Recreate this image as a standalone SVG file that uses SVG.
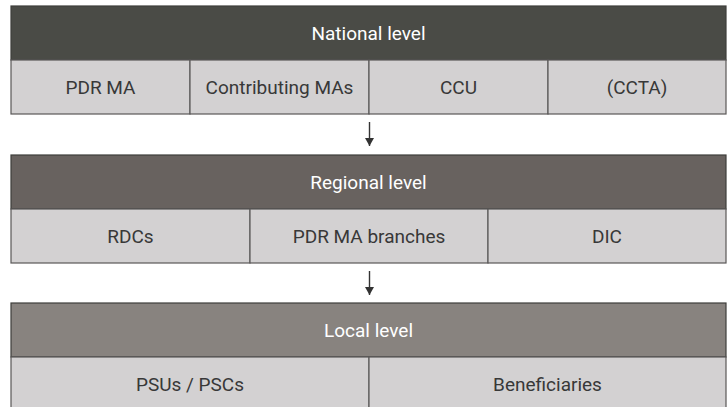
<svg xmlns="http://www.w3.org/2000/svg" width="728" height="407" viewBox="0 0 728 407">
<style>
.hd{stroke:#3e3e3b;stroke-width:1.2}
.cell{fill:#d3d1d2;stroke:#5a5858;stroke-width:1.2}
.ht{font-family:Roboto,"Liberation Sans",sans-serif;font-size:19px;fill:#ffffff;text-anchor:middle}
.ct{font-family:Roboto,"Liberation Sans",sans-serif;font-size:19px;fill:#383838;text-anchor:middle}
.con{stroke:#333333;stroke-width:1.4;fill:none}
</style>
<defs>
<marker id="ah" markerWidth="10" markerHeight="9" refX="8" refY="4.5" orient="auto" markerUnits="userSpaceOnUse" viewBox="0 0 10 9">
<path d="M0,0 L8,4.5 L0,9 Z" fill="#333333"/>
</marker>
</defs>
<rect width="728" height="407" fill="#ffffff"/>
<g id="national">
<rect class="hd" x="11" y="6" width="715" height="54" fill="#4a4b46"/>
<text class="ht" x="368.5" y="40">National level</text>
<rect class="cell" x="11" y="60" width="179" height="54"/>
<rect class="cell" x="190" y="60" width="179" height="54"/>
<rect class="cell" x="369" y="60" width="179" height="54"/>
<rect class="cell" x="548" y="60" width="178" height="54"/>
<text class="ct" x="100.5" y="94">PDR MA</text>
<text class="ct" x="279.5" y="94">Contributing MAs</text>
<text class="ct" x="458.5" y="94">CCU</text>
<text class="ct" x="637" y="94">(CCTA)</text>
</g>
<g id="regional">
<rect class="hd" x="11" y="155" width="715" height="54" fill="#68625f"/>
<text class="ht" x="368.5" y="189">Regional level</text>
<rect class="cell" x="11" y="209" width="239" height="54"/>
<rect class="cell" x="250" y="209" width="238" height="54"/>
<rect class="cell" x="488" y="209" width="238" height="54"/>
<text class="ct" x="130.5" y="243">RDCs</text>
<text class="ct" x="369" y="243">PDR MA branches</text>
<text class="ct" x="607" y="243">DIC</text>
</g>
<g id="local">
<rect class="hd" x="11" y="303" width="715" height="54" fill="#88837f"/>
<text class="ht" x="368.5" y="337">Local level</text>
<rect class="cell" x="11" y="357" width="358" height="54"/>
<rect class="cell" x="369" y="357" width="357" height="54"/>
<text class="ct" x="190" y="391">PSUs / PSCs</text>
<text class="ct" x="547.5" y="391">Beneficiaries</text>
</g>
<g id="connectors">
<line class="con" x1="369.5" y1="122" x2="369.5" y2="146" marker-end="url(#ah)"/>
<line class="con" x1="369.5" y1="271" x2="369.5" y2="295" marker-end="url(#ah)"/>
</g>
</svg>
